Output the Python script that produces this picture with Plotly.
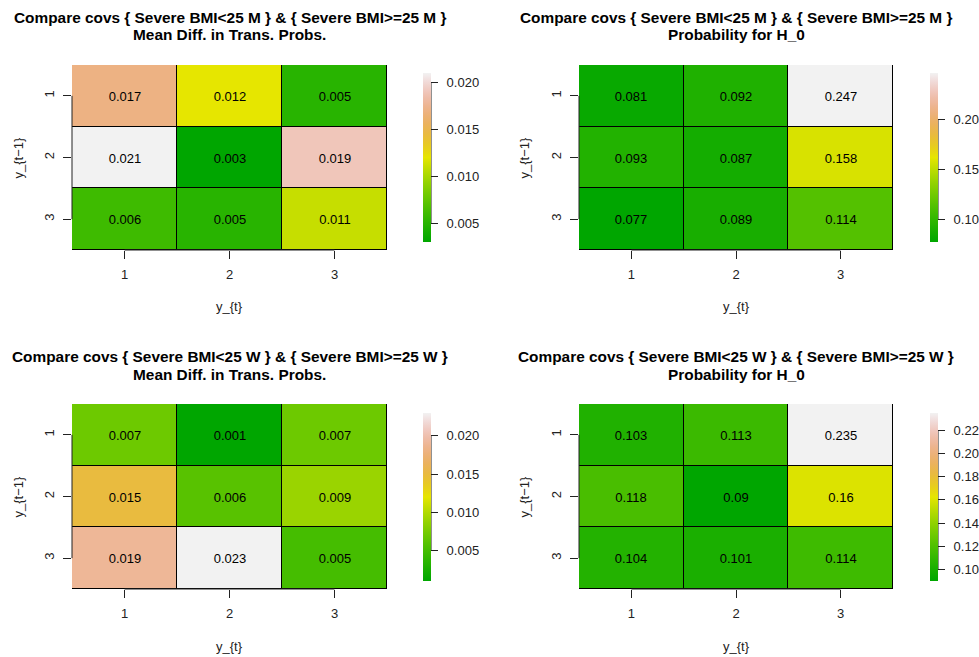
import colorsys
import plotly.graph_objects as go
from plotly.subplots import make_subplots

# ---------------- data ----------------
states = [1, 2, 3]
tick_labels = ["1", "2", "3"]

titles_line1 = [
    "Compare covs { Severe BMI<25 M } & { Severe BMI>=25 M }",
    "Compare covs { Severe BMI<25 M } & { Severe BMI>=25 M }",
    "Compare covs { Severe BMI<25 W } & { Severe BMI>=25 W }",
    "Compare covs { Severe BMI<25 W } & { Severe BMI>=25 W }",
]
titles_line2 = [
    "Mean Diff. in Trans. Probs.",
    "Probability for H_0",
    "Mean Diff. in Trans. Probs.",
    "Probability for H_0",
]

men_mean_diff = [
    [0.017, 0.012, 0.005],
    [0.021, 0.003, 0.019],
    [0.006, 0.005, 0.011],
]
men_prob_h0 = [
    [0.081, 0.092, 0.247],
    [0.093, 0.087, 0.158],
    [0.077, 0.089, 0.114],
]
women_mean_diff = [
    [0.007, 0.001, 0.007],
    [0.015, 0.006, 0.009],
    [0.019, 0.023, 0.005],
]
women_prob_h0 = [
    [0.103, 0.113, 0.235],
    [0.118, 0.09, 0.16],
    [0.104, 0.101, 0.114],
]

cb_ticks_men_diff = [0.005, 0.010, 0.015, 0.020]
cb_ticks_men_h0 = [0.10, 0.15, 0.20]
cb_ticks_women_diff = [0.005, 0.010, 0.015, 0.020]
cb_ticks_women_h0 = [0.10, 0.12, 0.14, 0.16, 0.18, 0.20, 0.22]

x_title = "y_{t}"
y_title = "y_{t\u22121}"

# ---------------- colours (R terrain.colors) ----------------
def terrain(t):
    if t <= 0.5:
        u = t / 0.5
        h = 4 / 12 + (2 / 12 - 4 / 12) * u
        s = 1.0
        v = 0.65 + 0.25 * u
    else:
        u = (t - 0.5) / 0.5
        h = 2 / 12 * (1 - u)
        s = 1 - u
        v = 0.9 + 0.05 * u
    r, g, b = colorsys.hsv_to_rgb(h, s, v)
    return "rgb(%d,%d,%d)" % (round(r * 255), round(g * 255), round(b * 255))

N = 40
terrain_scale = [[i / N, terrain(i / N)] for i in range(N + 1)]

# ---------------- layout geometry ----------------
W, H = 979, 657

def px_x(x):
    return x / W

def px_y(y):
    return 1 - y / H

heat_x = [(72, 387), (579, 893)]
heat_y = [(65, 250), (404, 589)]
cb_x = [423, 930]
cb_y = [(73, 242), (413, 581)]
title_y = [(17, 35), (356, 374)]
xtitle_y = [307, 646]
ytitle_x = [18, 524]

panels = [
    (men_mean_diff, cb_ticks_men_diff, "%.3f", 0, 0),
    (men_prob_h0, cb_ticks_men_h0, "%.2f", 0, 1),
    (women_mean_diff, cb_ticks_women_diff, "%.3f", 1, 0),
    (women_prob_h0, cb_ticks_women_h0, "%.2f", 1, 1),
]

fig = make_subplots(rows=2, cols=2)
FONT = "Liberation Sans, Arial, sans-serif"
shapes = []
annotations = []

for k, (z, cbt, fmt, r, c) in enumerate(panels):
    zmin = min(min(row) for row in z)
    zmax = max(max(row) for row in z)
    cby0, cby1 = cb_y[r]
    cb_len = (cby1 - cby0) / H
    cb_center = px_y((cby0 + cby1) / 2)
    fig.add_trace(
        go.Heatmap(
            z=z,
            x=states,
            y=states,
            text=[[str(v) for v in row] for row in z],
            texttemplate="%{text}",
            textfont=dict(size=13, color="black", family=FONT),
            colorscale=terrain_scale,
            zmin=zmin,
            zmax=zmax,
            xgap=1,
            ygap=1,
            hoverinfo="skip",
            colorbar=dict(
                x=px_x(cb_x[c]),
                xanchor="left",
                y=cb_center,
                yanchor="middle",
                len=cb_len,
                lenmode="fraction",
                thickness=8,
                thicknessmode="pixels",
                outlinewidth=0,
                xpad=0,
                ypad=0,
                ticks="outside",
                ticklen=7,
                tickwidth=1,
                tickcolor="#222",
                tickvals=cbt,
                ticktext=["\u2002" + (fmt % v) for v in cbt],
                tickfont=dict(size=13, color="#222", family=FONT),
            ),
        ),
        row=r + 1,
        col=c + 1,
    )
    idx = "" if k == 0 else str(k + 1)
    hx0, hx1 = heat_x[c]
    hy0, hy1 = heat_y[r]
    fig.layout["xaxis" + idx].update(
        domain=[px_x(hx0), px_x(hx1)],
        range=[0.5, 3.5],
        tickvals=states,
        ticktext=tick_labels,
        ticks="outside",
        ticklen=8,
        tickcolor="#222",
        ticklabelstandoff=4,
        showgrid=False,
        zeroline=False,
        showline=False,
        tickfont=dict(size=13, color="#222", family=FONT),
    )
    fig.layout["yaxis" + idx].update(
        domain=[px_y(hy1), px_y(hy0)],
        range=[3.5, 0.5],
        tickvals=states,
        ticktext=tick_labels,
        ticks="outside",
        ticklen=8,
        tickcolor="#222",
        tickangle=-90,
        ticklabelstandoff=4,
        showgrid=False,
        zeroline=False,
        showline=False,
        tickfont=dict(size=13, color="#222", family=FONT),
    )
    xr = "x" + idx
    yr = "y" + idx
    # R-style axis lines spanning first to last tick
    shapes.append(dict(type="line", xref=xr, yref=yr + " domain",
                       x0=states[0], x1=states[-1], y0=0, y1=0,
                       line=dict(color="#222", width=1)))
    shapes.append(dict(type="line", xref=xr + " domain", yref=yr,
                       x0=0, x1=0, y0=states[0], y1=states[-1],
                       line=dict(color="#222", width=1)))
    # colourbar axis line from first to last tick
    def cb_pos(v):
        return px_y(cby1) + (v - zmin) / (zmax - zmin) * cb_len
    shapes.append(dict(type="line", xref="paper", yref="paper",
                       x0=px_x(cb_x[c] + 8), x1=px_x(cb_x[c] + 8),
                       y0=cb_pos(cbt[0]), y1=cb_pos(cbt[-1]),
                       line=dict(color="#222", width=1)))
    # titles
    cx = px_x((hx0 + hx1) / 2)
    t1, t2 = title_y[r]
    annotations.append(dict(text="<b>" + titles_line1[k].replace("<", "&lt;").replace(">", "&gt;") + "</b>",
                            x=cx, y=px_y(t1), xref="paper", yref="paper",
                            xanchor="center", yanchor="middle", showarrow=False,
                            font=dict(size=15.4, color="black", family=FONT)))
    annotations.append(dict(text="<b>" + titles_line2[k] + "</b>",
                            x=cx, y=px_y(t2), xref="paper", yref="paper",
                            xanchor="center", yanchor="middle", showarrow=False,
                            font=dict(size=15.4, color="black", family=FONT)))
    annotations.append(dict(text=x_title, x=cx, y=px_y(xtitle_y[r]),
                            xref="paper", yref="paper", xanchor="center",
                            yanchor="middle", showarrow=False,
                            font=dict(size=13, color="#222", family=FONT)))
    annotations.append(dict(text=y_title, x=px_x(ytitle_x[c]),
                            y=px_y((hy0 + hy1) / 2), xref="paper", yref="paper",
                            xanchor="center", yanchor="middle", showarrow=False,
                            textangle=-90,
                            font=dict(size=13, color="#222", family=FONT)))

fig.update_layout(
    width=W,
    height=H,
    margin=dict(l=0, r=0, t=0, b=0),
    paper_bgcolor="white",
    plot_bgcolor="black",
    showlegend=False,
    shapes=shapes,
    annotations=annotations,
    font=dict(family=FONT),
)

fig.write_html("out.html")
